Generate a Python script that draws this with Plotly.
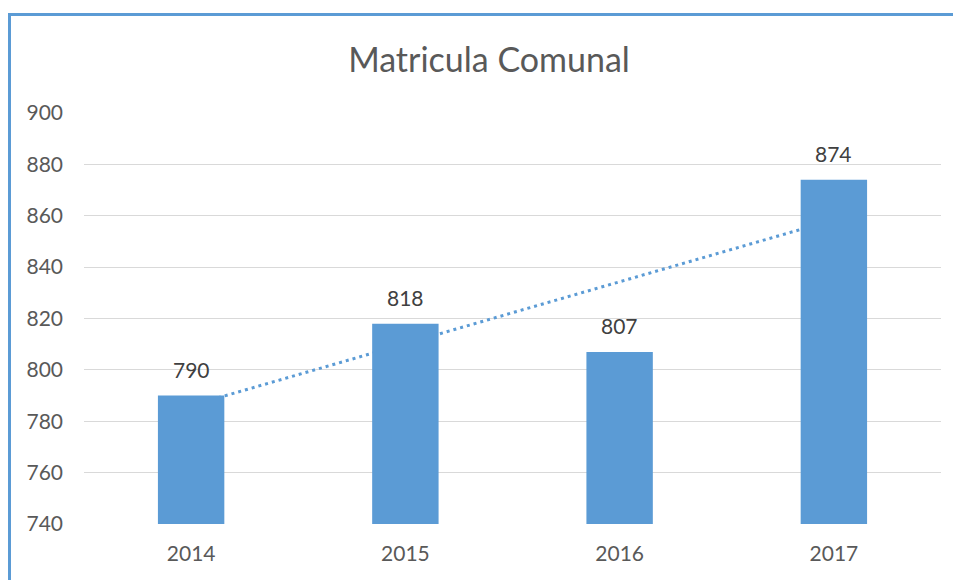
import numpy as np
import plotly.graph_objects as go

years = ["2014", "2015", "2016", "2017"]
matricula = [790, 818, 807, 874]
y_ticks = [740, 760, 780, 800, 820, 840, 860, 880, 900]
title_text = "Matricula Comunal"

# linear trendline (least squares) as in the spreadsheet chart
idx = np.arange(len(years))
slope, intercept = np.polyfit(idx, matricula, 1)
trend = list(slope * idx + intercept)

BLUE = "#5B9BD5"
FONT = "Lato"

fig = go.Figure()
fig.add_trace(go.Scatter(
    x=years, y=trend, mode="lines", xaxis="x", yaxis="y",
    line=dict(color=BLUE, width=3, dash="3px,4px"), hoverinfo="skip", showlegend=False,
))
fig.add_trace(go.Bar(
    x=years, y=matricula, xaxis="x2", yaxis="y",
    marker=dict(color=BLUE, line=dict(width=0)), showlegend=False,
))

# value labels (category index positions on the category axis)
for i, v in enumerate(matricula):
    fig.add_annotation(x=i, y=v, xref="x", yref="y", text=str(v), showarrow=False,
                       yanchor="bottom", yshift=12,
                       font=dict(family=FONT, size=21, color="#404040"))

# page has an 8px body offset: figure sized so it fits the 961x580 window
OFF = 8
W, H = 961 - OFF, 580 - OFF
L, R, T, B = 84 - OFF, 20, 113 - OFF, H - (524 - OFF)
pw, ph = W - L - R, H - T - B
def px_x(p): return (p - OFF - L) / pw
def px_y(p): return (H - B - (p - OFF)) / ph

# outer chart frame (left and top edges visible)
fig.add_shape(type="path", xref="paper", yref="paper",
              path=f"M {px_x(9.5)} {px_y(590)} L {px_x(9.5)} {px_y(14.5)} L {px_x(965)} {px_y(14.5)}",
              line=dict(color=BLUE, width=3), layer="above")

fig.update_layout(
    width=W, height=H,
    margin=dict(l=L, r=R, t=T, b=B),
    paper_bgcolor="white", plot_bgcolor="white",
    bargap=0.69,
    title=dict(text=title_text, x=(489 - OFF) / W, xanchor="center", y=1 - (60 - OFF) / H,
               yanchor="middle",
               font=dict(family=FONT, size=34, color="#595959")),
    xaxis=dict(type="category", categoryorder="array", categoryarray=years,
               range=[-0.5, 3.5], showgrid=False, zeroline=False, showline=False,
               ticks="", tickfont=dict(family=FONT, size=21, color="#595959"),
               ticklabelstandoff=15, automargin=False),
    xaxis2=dict(type="category", categoryorder="array", categoryarray=years,
                range=[-0.5, 3.5], overlaying="x", visible=False, matches="x"),
    yaxis=dict(range=[740, 900], tickvals=y_ticks, showgrid=True, gridcolor="#D9D9D9",
               gridwidth=1.3, zeroline=False, showline=False, ticks="",
               tickfont=dict(family=FONT, size=21, color="#595959"),
               ticklabelstandoff=20, automargin=False),
    font=dict(family=FONT),
)

fig.write_html("out.html")
